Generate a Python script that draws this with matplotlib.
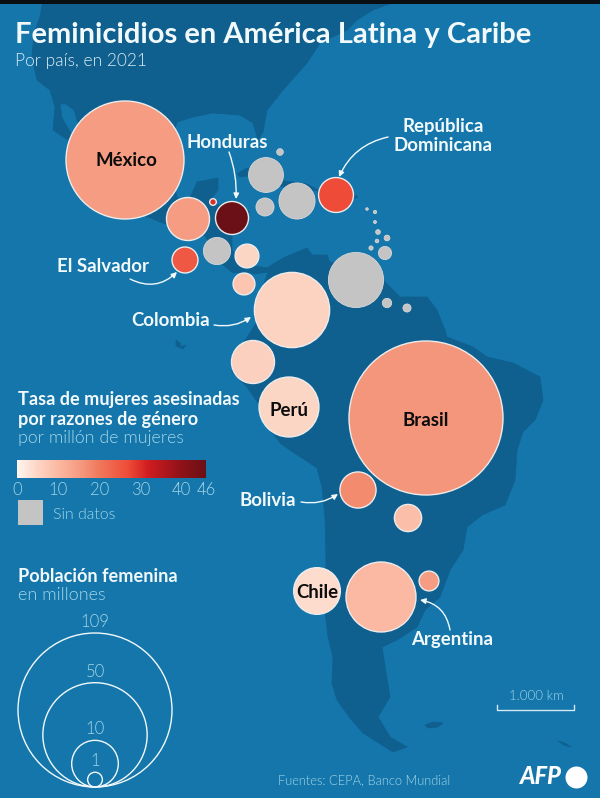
import numpy as np
import matplotlib
matplotlib.use("Agg")
import matplotlib.pyplot as plt
from matplotlib.colors import LinearSegmentedColormap, Normalize
from matplotlib.cm import ScalarMappable
from matplotlib.patches import Polygon, Rectangle

plt.rcParams['font.family'] = ['Lato', 'DejaVu Sans']

OCEAN = "#1476ab"
LAND = "#0f5f8f"
WHITE = "#f2f9fb"
PALE = "#a5d6e8"
GREY = "#c4c4c4"
LIGHT = 300

# countries with a rate
names = ["México", "Guatemala", "Belice", "Honduras", "El Salvador", "Costa Rica", "Panamá",
         "Colombia", "Rep. Dominicana", "Ecuador", "Perú", "Brasil", "Bolivia", "Paraguay",
         "Chile", "Argentina", "Uruguay"]
pos_x = [125, 188, 213, 232, 185, 247, 244, 292, 336, 253, 289, 426, 358, 408, 317, 381, 429]
pos_y = [160, 219, 202, 218, 260, 256, 284, 310, 195, 362, 407, 418, 490, 518, 591, 597, 581]
population = [64, 8.5, 0.2, 5, 3.1, 2.6, 2.2, 26, 5.6, 8.5, 16.5, 109, 6, 3.4, 10, 22.5, 1.8]
rate = [15, 15, 30, 46, 25, 5, 8, 5.5, 27, 6, 5, 16, 17.5, 9, 4, 10, 15]

# countries without data
nodata_x = [266, 280, 265, 297, 217, 356, 385, 387, 407, 367, 375, 375, 378, 387, 377, 371]
nodata_y = [175, 152, 207, 201, 251, 280, 253, 303, 308, 209, 212, 222, 232, 238, 241, 248]
nodata_pop = [5.6, 0.2, 1.5, 6, 3.4, 14, 0.8, 0.4, 0.3, 0.03, 0.05, 0.04, 0.1, 0.15, 0.06, 0.08]

legend_pop = [109, 50, 10, 1]
legend_y_labels = [622, 672, 729, 761]
cbar_ticks = [0, 10, 20, 30, 40, 46]

north_land = [(43, 0), (40, 17), (34, 33), (32, 57), (37, 80), (50, 90), (55, 107), (53, 130),
              (68, 140), (72, 135), (62, 118), (60, 104), (66, 104), (74, 110), (80, 130),
              (125, 190), (143, 215), (165, 224), (190, 222), (205, 236), (223, 265),
              (233, 273), (247, 272), (255, 274), (268, 272), (262, 290), (258, 320),
              (250, 333), (235, 355), (232, 372), (247, 387), (258, 403), (270, 430),
              (281, 444), (317, 468), (322, 487), (325, 517), (326, 560), (325, 610),
              (328, 637), (333, 657), (332, 683), (337, 700), (350, 718), (363, 733),
              (393, 752), (407, 747), (390, 737), (378, 717), (390, 697), (382, 647),
              (397, 640), (417, 627), (425, 610), (440, 597), (450, 570), (463, 550),
              (467, 527), (482, 515), (505, 505), (515, 480), (517, 450), (523, 432),
              (535, 420), (543, 400), (540, 377), (513, 363), (487, 357), (473, 347),
              (447, 337), (445, 330), (437, 310), (427, 297), (400, 297), (383, 280),
              (345, 260), (330, 263), (327, 255), (312, 255), (307, 248), (283, 258),
              (267, 268), (255, 266), (240, 262), (232, 250), (232, 215), (250, 212),
              (232, 203), (215, 205), (210, 200), (218, 190), (218, 178), (197, 182),
              (190, 198), (178, 200), (170, 170), (172, 140), (177, 122), (193, 117),
              (213, 113), (240, 115), (253, 123), (258, 140), (263, 132), (267, 110),
              (283, 90), (307, 63), (320, 43), (347, 30), (357, 20), (373, 10), (400, 0)]
cuba = [(237, 174), (247, 168), (262, 170), (285, 181), (307, 184), (320, 191), (300, 189), (280, 186),
        (255, 175), (240, 177)]
hispaniola = [(318, 190), (345, 188), (358, 197), (335, 204), (318, 200)]
falklands = [(425, 725), (433, 722), (443, 723), (438, 727), (428, 728)]
south_georgia = [(558, 741), (565, 743), (571, 747), (564, 745)]
galapagos = [(176, 340), (181, 344), (179, 347), (186, 345), (183, 349), (176, 346)]


def bubble_size(pop):
    # area scale: 109 million -> 77 px radius
    radius = 77 * np.sqrt(np.asarray(pop, dtype=float) / 109)
    return (2 * radius * 0.72) ** 2


fig = plt.figure(figsize=(6, 7.98), dpi=100, facecolor=OCEAN)
ax = fig.add_axes([0, 0, 1, 1])
ax.set_xlim(0, 600)
ax.set_ylim(798, 0)
ax.axis("off")

for shape in [north_land, cuba, hispaniola, falklands, south_georgia, galapagos]:
    ax.add_patch(Polygon(shape, closed=True, facecolor=LAND, edgecolor=LAND, linewidth=0.5, joinstyle="round"))
ax.add_patch(Rectangle((0, 0), 600, 3.5, facecolor="#0a0f14", edgecolor="none", zorder=6))

cmap = LinearSegmentedColormap.from_list(
    "rate",
    [(0, "#fff6f0"), (5 / 46, "#fcd5c4"), (10 / 46, "#fbb9a2"), (16 / 46, "#f4967b"),
     (20 / 46, "#f0785c"), (27 / 46, "#ee4c38"), (32 / 46, "#d01c20"), (40 / 46, "#8f1218"),
     (1, "#6a1016")])
norm = Normalize(0, 46)

ax.scatter(nodata_x, nodata_y, s=bubble_size(nodata_pop), c=GREY, edgecolors="#d8d8d8", linewidths=0.6, zorder=3)
ax.scatter(pos_x, pos_y, s=bubble_size(population), c=rate, cmap=cmap, norm=norm,
           edgecolors="#ececec", linewidths=1.0, zorder=4)

# texts
ax.text(15, 35, "Feminicidios en América Latina y Caribe", color=WHITE, fontsize=21, fontweight="bold",
        va="center", zorder=7)
ax.text(15, 61, "Por país, en 2021", color="#dcedf4", fontsize=12.5, fontweight=LIGHT, va="center", zorder=7)

for label, x, y in [("México", 126, 161), ("Perú", 289, 410), ("Brasil", 426, 421), ("Chile", 317, 593)]:
    ax.text(x, y, label, color="#0c0c0c", fontsize=13.4, fontweight="bold", ha="center", va="center", zorder=7)

for label, x, y in [("Honduras", 227, 143), ("República\nDominicana", 443, 136), ("El Salvador", 103, 266),
                    ("Colombia", 171, 321), ("Bolivia", 268, 500), ("Argentina", 452, 640)]:
    ax.text(x, y, label, color=WHITE, fontsize=13.4, fontweight="bold", ha="center", va="center",
            linespacing=1.1, zorder=7)

arrows = [((229, 152), (236, 199), -0.1), ((388, 137), (339, 177), 0.25), ((130, 279), (177, 272), 0.35),
          ((214, 325), (251, 317), 0.2), ((301, 502), (338, 494), 0.2), ((450, 630), (420, 600), 0.35)]
for start, end, rad in arrows:
    ax.annotate("", xy=end, xytext=start, zorder=7,
                arrowprops=dict(arrowstyle="-|>", color=WHITE, lw=1.0, mutation_scale=8,
                                shrinkA=0, shrinkB=0, connectionstyle=f"arc3,rad={rad}"))

# colour legend
ax.text(18, 399, "Tasa de mujeres asesinadas", color=WHITE, fontsize=13.1, fontweight="bold", va="center")
ax.text(18, 419, "por razones de género", color=WHITE, fontsize=13.1, fontweight="bold", va="center")
ax.text(18, 438, "por millón de mujeres", color=PALE, fontsize=12.8, fontweight=LIGHT, va="center")

cax = fig.add_axes([17 / 600, 1 - 478 / 798, 189 / 600, 18 / 798])
cb = fig.colorbar(ScalarMappable(norm=norm, cmap=cmap), cax=cax, orientation="horizontal")
cb.set_ticks(cbar_ticks)
cb.ax.tick_params(length=0, labelsize=12, labelcolor=PALE, pad=3)
cb.outline.set_visible(False)
for tick in cb.ax.get_xticklabels():
    tick.set_fontweight(LIGHT)

ax.add_patch(Rectangle((18, 500), 25, 25, facecolor=GREY, edgecolor="none"))
ax.text(53, 515, "Sin datos", color=PALE, fontsize=11.4, fontweight=LIGHT, va="center")

# size legend
ax.text(18, 576, "Población femenina", color=WHITE, fontsize=13.1, fontweight="bold", va="center")
ax.text(18, 595, "en millones", color=PALE, fontsize=13, fontweight=LIGHT, va="center")
bottom = 787
for pop, label_y in zip(legend_pop, legend_y_labels):
    r = 77 * np.sqrt(pop / 109)
    ax.scatter([95], [bottom - r], s=bubble_size(pop), facecolors="none", edgecolors=WHITE, linewidths=1.0)
    ax.text(95, label_y, str(pop), color=PALE, fontsize=12, fontweight=LIGHT, ha="center", va="center")

# scale bar
ax.plot([497, 497, 574, 574], [705, 710, 710, 705], color="#d5ebf3", lw=1)
ax.text(536, 696, "1.000 km", color=PALE, fontsize=9.5, fontweight=LIGHT, ha="center", va="center")

# source and logo
ax.text(278, 780, "Fuentes: CEPA, Banco Mundial", color=PALE, fontsize=9.3, fontweight=LIGHT, va="center")
ax.text(519, 777, "AFP", color="white", fontsize=17, fontweight="black", style="italic", va="center")
ax.scatter([576], [777], s=(22 * 0.72) ** 2, c="white", linewidths=0)

fig.savefig("out.png", dpi=100, facecolor=OCEAN)
